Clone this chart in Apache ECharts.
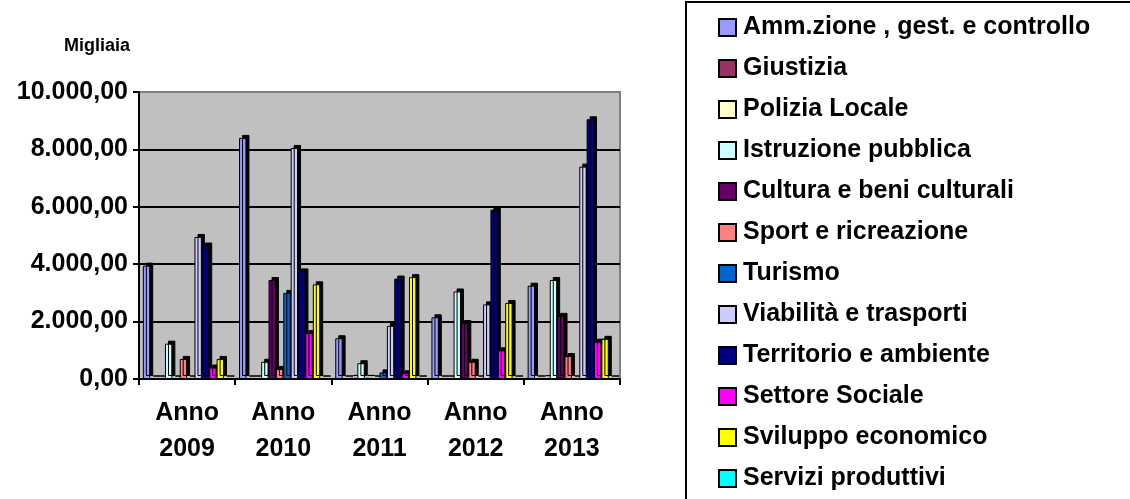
<!DOCTYPE html>
<html>
<head>
<meta charset="utf-8">
<script src="https://cdn.jsdelivr.net/npm/echarts@6/dist/echarts.min.js"></script>
<style>
html,body{margin:0;padding:0;background:#fff;}
#chart{width:1130px;height:499px;}
</style>
</head>
<body>
<div id="chart"></div>
<script>
var categories = ['Anno\n2009', 'Anno\n2010', 'Anno\n2011', 'Anno\n2012', 'Anno\n2013'];
var seriesNames = [
  'Amm.zione , gest. e controllo', 'Giustizia', 'Polizia Locale', 'Istruzione pubblica',
  'Cultura e beni culturali', 'Sport e ricreazione', 'Turismo', 'Viabilità e trasporti',
  'Territorio e ambiente', 'Settore Sociale', 'Sviluppo economico', 'Servizi produttivi'
];
var ammzione   = [3950, 8400, 1420, 2150, 3250];
var giustizia  = [0, 0, 0, 0, 0];
var polizia    = [0, 0, 40, 0, 30];
var istruzione = [1230, 600, 550, 3050, 3450];
var cultura    = [0, 3450, 40, 1950, 2200];
var sport      = [700, 350, 0, 600, 800];
var turismo    = [0, 3000, 230, 0, 0];
var viabilita  = [4950, 8050, 1850, 2600, 7400];
var territorio = [4650, 3750, 3500, 5900, 9050];
var sociale    = [400, 1600, 200, 1000, 1300];
var sviluppo   = [700, 3300, 3550, 2650, 1400];
var servizi    = [0, 0, 0, 0, 0];
var yTicks = [0, 2000, 4000, 6000, 8000, 10000];

var seriesData = [ammzione, giustizia, polizia, istruzione, cultura, sport, turismo,
  viabilita, territorio, sociale, sviluppo, servizi];
var colors = ['#9999FF', '#993366', '#FFFFCC', '#CCFFFF', '#660066', '#FF8080',
  '#0066CC', '#CCCCFF', '#000080', '#FF00FF', '#FFFF00', '#00FFFF'];

function itFmt(v) {
  var s = Math.round(v).toString().replace(/\B(?=(\d{3})+(?!\d))/g, '.');
  return s + ',00';
}

var FONT = 'Liberation Sans, Arial, sans-serif';
var chart = echarts.init(document.getElementById('chart'));
var series = seriesNames.map(function (n, i) {
  return {
    name: n,
    type: 'bar',
    data: seriesData[i],
    barGap: '0%',
    barCategoryGap: '8%',
    itemStyle: {
      color: colors[i],
      borderColor: '#000',
      borderWidth: 1,
      shadowColor: '#000',
      shadowOffsetX: 3,
      shadowOffsetY: -3,
      shadowBlur: 0
    }
  };
});

chart.setOption({
  animation: false,
  color: colors,
  title: {
    text: 'Migliaia',
    left: 64, top: 37, padding: 0,
    textStyle: {fontFamily: FONT, fontSize: 18, fontWeight: 'bold', color: '#000'}
  },
  grid: {
    left: 139, top: 92, right: 510, bottom: 120,
    show: true, backgroundColor: '#C0C0C0', borderColor: '#808080', borderWidth: 2
  },
  legend: {
    orient: 'vertical',
    left: 718, top: 15, padding: 0,
    itemWidth: 17, itemHeight: 17,
    itemGap: 16,
    icon: 'rect',
    data: seriesNames,
    itemStyle: {borderColor: '#000', borderWidth: 2, shadowColor: 'rgba(0,0,0,0)', shadowOffsetX: 0, shadowOffsetY: 0},
    textStyle: {fontFamily: FONT, fontSize: 25, lineHeight: 25, fontWeight: 'bold', color: '#000', padding: [0, 0, 0, 2]}
  },
  graphic: [{
    type: 'rect',
    shape: {x: 686, y: 2, width: 460, height: 520},
    style: {fill: 'none', stroke: '#000', lineWidth: 2},
    silent: true
  }],
  xAxis: {
    type: 'category',
    data: categories,
    axisLine: {lineStyle: {color: '#000', width: 2}},
    axisTick: {show: true, length: 6, lineStyle: {color: '#000', width: 2}},
    axisLabel: {fontFamily: FONT, fontSize: 25, fontWeight: 'bold', color: '#000', lineHeight: 36, margin: 16}
  },
  yAxis: {
    type: 'value',
    min: 0, max: 10000, interval: 2000,
    axisLine: {show: true, lineStyle: {color: '#000', width: 2}},
    axisTick: {show: true, length: 6, lineStyle: {color: '#000', width: 2}},
    splitLine: {show: true, showMaxLine: false, lineStyle: {color: '#000', width: 2}},
    axisLabel: {fontFamily: FONT, fontSize: 25, fontWeight: 'bold', color: '#000', margin: 11,
      formatter: function (v) { return itFmt(v); }}
  },
  series: series
});
</script>
</body>
</html>
